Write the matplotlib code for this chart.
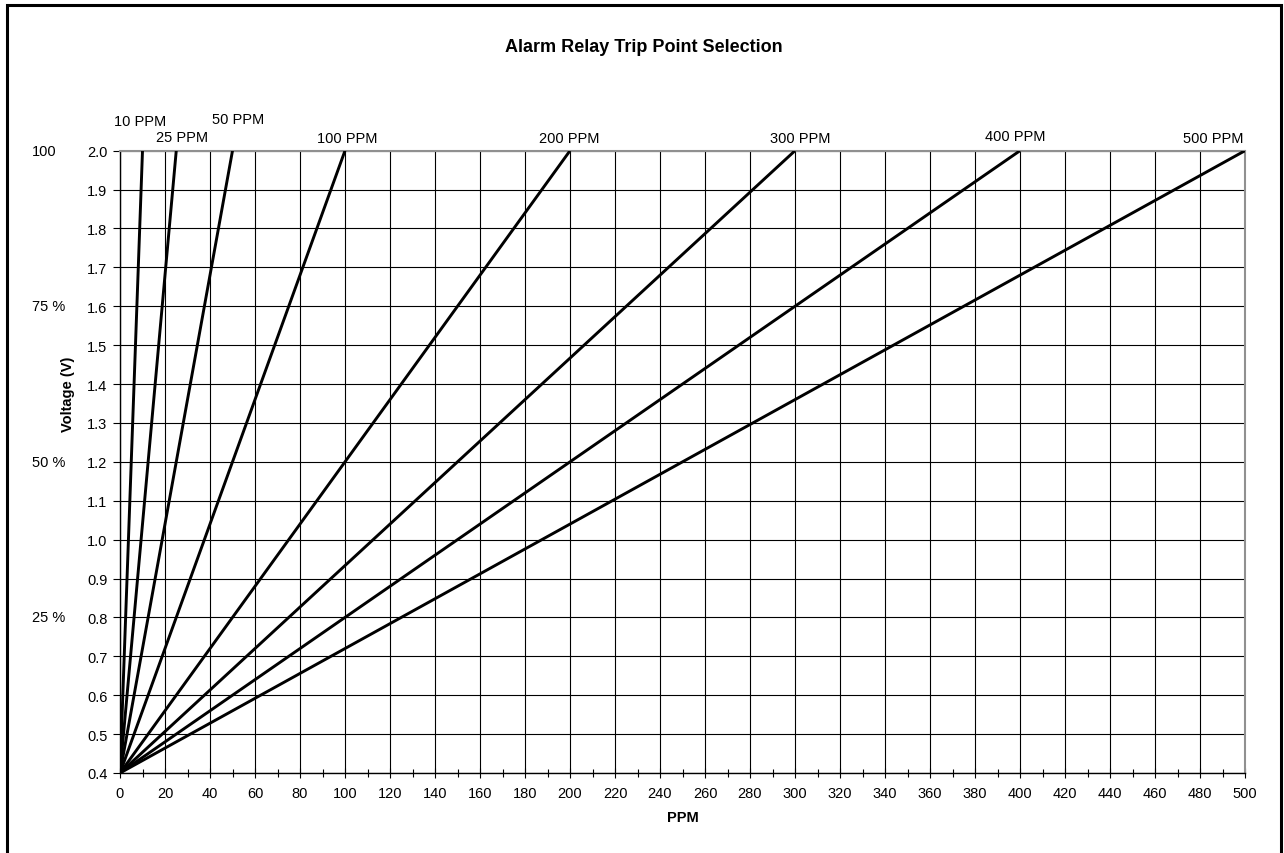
import matplotlib
matplotlib.use("Agg")
import matplotlib.pyplot as plt
from matplotlib.patches import Rectangle
from matplotlib.ticker import MultipleLocator, FormatStrFormatter

plt.rcParams['font.family'] = ['Liberation Sans', 'DejaVu Sans']

# trip point lines: each runs from (0 PPM, 0.4 V) to (full scale PPM, 2.0 V)
ranges_ppm = [10, 25, 50, 100, 200, 300, 400, 500]
range_labels = ["10 PPM", "25 PPM", "50 PPM", "100 PPM",
                "200 PPM", "300 PPM", "400 PPM", "500 PPM"]
v_start = 0.4
v_end = 2.0

# percent labels down the left side
pct_values = [2.0, 1.6, 1.2, 0.8]
pct_labels = ["100", "75 %", "50 %", "25 %"]

# label offsets (pixels) from the top end of each line
label_dx = [-2.5, 6, 6, 2, -1, 5, -4.5, -32]
label_dy = [30, 14, 32, 13, 13, 13, 15, 13]

W, H = 1284, 854
FS = 10.5
fig = plt.figure(figsize=(W / 100, H / 100), dpi=100)
ax = fig.add_axes([120 / W, 1 - 774 / H, 1125 / W, (774 - 151.7) / H])

for n in ranges_ppm:
    ax.plot([0, n], [v_start, v_end], color='black', lw=2.1, solid_capstyle='butt', zorder=3)

for n, lab, dx, dy in zip(ranges_ppm, range_labels, label_dx, label_dy):
    ax.annotate(lab, xy=(n, v_end), xytext=(dx, dy), textcoords='offset pixels',
                ha='center', va='center', fontsize=FS, annotation_clip=False)

ax.set_xlim(0, 500)
ax.set_ylim(0.4, 2.0)
ax.xaxis.set_major_locator(MultipleLocator(20))
ax.xaxis.set_minor_locator(MultipleLocator(10))
ax.yaxis.set_major_locator(MultipleLocator(0.1))
ax.yaxis.set_major_formatter(FormatStrFormatter('%.1f'))
ax.grid(True, which='major', color='black', lw=0.8)
ax.set_axisbelow(True)
ax.tick_params(axis='x', which='major', direction='inout', length=7, width=0.8, labelsize=FS, pad=6)
ax.tick_params(axis='x', which='minor', direction='inout', length=6, width=0.8)
ax.tick_params(axis='y', which='major', direction='out', length=5, width=0.8, labelsize=FS, pad=4)

for side in ['left', 'bottom']:
    ax.spines[side].set_color('black')
    ax.spines[side].set_linewidth(1.0)
for side in ['top', 'right']:
    ax.spines[side].set_color('#909090')
    ax.spines[side].set_linewidth(1.5)

ax.set_xlabel("PPM", fontsize=FS, fontweight='bold', labelpad=7)
ax.text(-52 / 1125, 1.375, "Voltage (V)", transform=ax.get_yaxis_transform(),
        rotation=90, ha='center', va='center', fontsize=FS, fontweight='bold')

for v, lab in zip(pct_values, pct_labels):
    ax.text(-88 / 1125, v, lab, transform=ax.get_yaxis_transform(),
            ha='left', va='center', fontsize=FS)

fig.text(644 / W, 1 - 48 / H, "Alarm Relay Trip Point Selection",
         ha='center', va='center', fontsize=13, fontweight='bold')

# outer frame (bottom edge runs off the page)
fig.patches.append(Rectangle((7 / W, -0.05), (1281 - 7) / W, 1.05 - 6 / H,
                             transform=fig.transFigure, fill=False,
                             edgecolor='black', lw=2.2, clip_on=False))

fig.savefig("out.png", dpi=100)
